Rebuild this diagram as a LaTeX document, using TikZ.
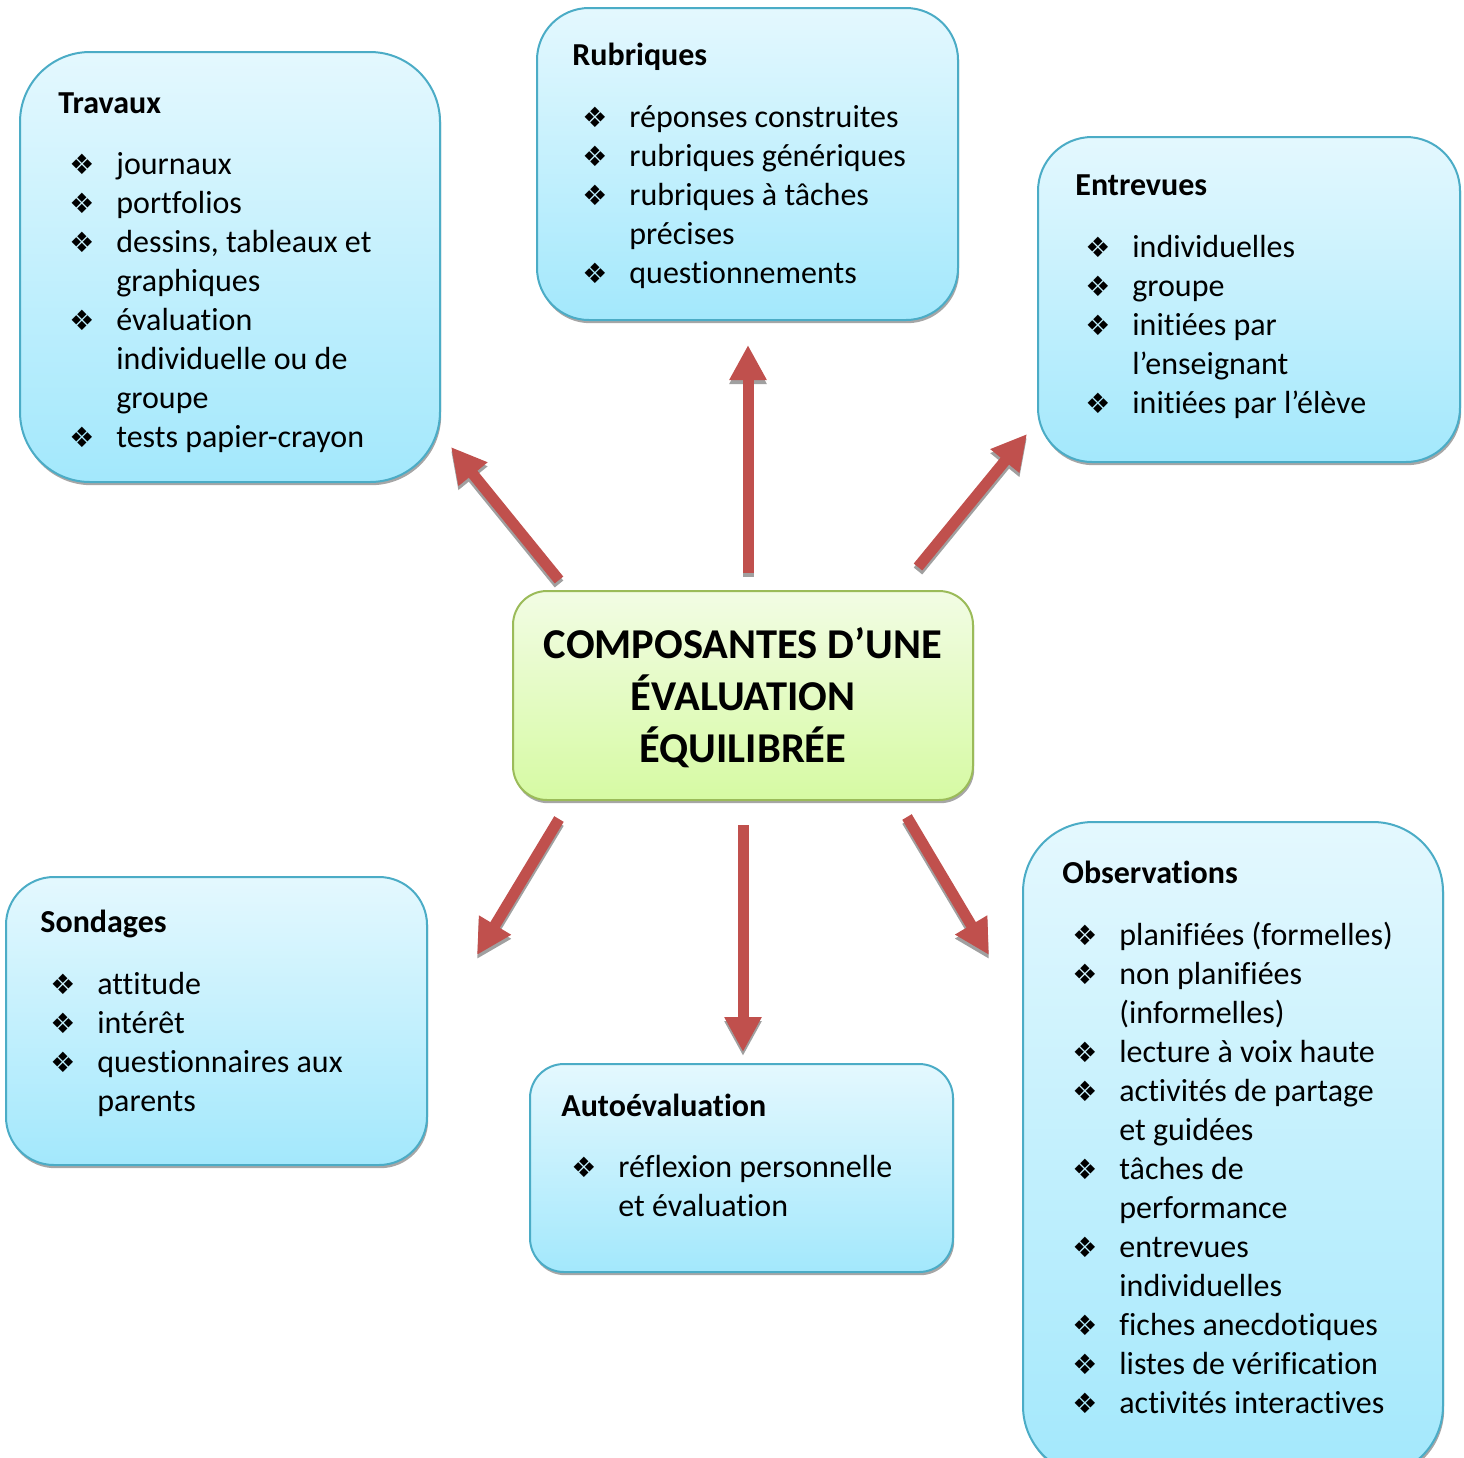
\documentclass[tikz,border=0pt]{standalone}
\usepackage{fontspec}
\setmainfont{Carlito}[RawFeature={-liga;-clig}]
\newfontfamily\dejavu{DejaVu Sans}
\usetikzlibrary{arrows.meta,shadows}
\definecolor{boxtop}{RGB}{228,248,254}
\definecolor{boxbot}{RGB}{163,232,252}
\definecolor{boxline}{RGB}{75,172,198}
\definecolor{gtop}{RGB}{242,252,228}
\definecolor{gbot}{RGB}{214,250,163}
\definecolor{gline}{RGB}{155,187,89}
\definecolor{redarr}{RGB}{192,80,77}
\definecolor{shadowgray}{RGB}{160,160,160}
\newcommand\itemfont{\fontsize{16pt}{19.5pt}\selectfont}
\newcommand\bul{\makebox[24pt][l]{\hspace{0.5pt}\dejavu\fontsize{14pt}{14pt}\selectfont ❖}}
\tikzset{
  bluebox/.style={draw=boxline, line width=1pt, top color=boxtop, bottom color=boxbot,
    drop shadow={shadow xshift=0.6pt, shadow yshift=-1.6pt, fill=black, opacity=0.35}, inner sep=0pt},
  greenbox/.style={draw=gline, line width=1pt, top color=gtop, bottom color=gbot,
    drop shadow={shadow xshift=0.6pt, shadow yshift=-1.6pt, fill=black, opacity=0.35}, inner sep=0pt},
  headtext/.style={anchor=base west, inner sep=0pt, font=\itemfont\bfseries},
  listtext/.style={anchor=base west, inner sep=0pt, font=\itemfont},
  titletext/.style={anchor=base, inner sep=0pt, font=\fontsize{21.25pt}{26pt}\selectfont\bfseries},
  redarrow/.style={draw=redarr, line width=5.5pt, -{Triangle[width=17.5pt,length=17.5pt]}},
  arrowshadow/.style={draw=shadowgray, line width=5.5pt, -{Triangle[width=17.5pt,length=17.5pt]},
    transform canvas={yshift=-2pt}},
}
\begin{document}
\begin{tikzpicture}[x=0.5pt,y=-0.5pt]
\useasboundingbox (0,0) rectangle (1464,1458);

% boxes
\node[bluebox, minimum width=210pt, minimum height=215pt, rounded corners=35pt] (travaux) at (230,267) {};
\node[bluebox, minimum width=210.5pt, minimum height=156pt, rounded corners=26pt] (rubriques) at (747.5,164) {};
\node[bluebox, minimum width=211pt, minimum height=162.5pt, rounded corners=27pt] (entrevues) at (1249,299.5) {};
\node[bluebox, minimum width=210.5pt, minimum height=144pt, rounded corners=24pt] (sondages) at (216.5,1021) {};
\node[bluebox, minimum width=211.5pt, minimum height=104pt, rounded corners=17pt] (auto) at (741.5,1168) {};
\node[bluebox, minimum width=210pt, minimum height=327pt, rounded corners=35pt] (observations) at (1233,1149) {};
\node[greenbox, minimum width=230pt, minimum height=104.5pt, rounded corners=17pt] (centre) at (743,695.5) {};

% title
\node[titletext] (titre) at (743,658) {\begin{tabular}[t]{@{}c@{}}COMPOSANTES D’UNE\\ ÉVALUATION\\ ÉQUILIBRÉE\end{tabular}};

% Travaux
\node[headtext] (travaux-h) at (58,113) {Travaux};
\node[listtext] (travaux-l) at (68,174) {\begin{tabular}[t]{@{}l@{}l@{}}
\bul & journaux\\
\bul & portfolios\\
\bul & dessins, tableaux et\\
 & graphiques\\
\bul & évaluation\\
 & individuelle ou de\\
 & groupe\\
\bul & tests papier-crayon
\end{tabular}};

% Rubriques
\node[headtext] (rubriques-h) at (572,65) {Rubriques};
\node[listtext] (rubriques-l) at (581,127) {\begin{tabular}[t]{@{}l@{}l@{}}
\bul & réponses construites\\
\bul & rubriques génériques\\
\bul & rubriques à tâches\\
 & précises\\
\bul & questionnements
\end{tabular}};

% Entrevues
\node[headtext] (entrevues-h) at (1075,195) {Entrevues};
\node[listtext] (entrevues-l) at (1084,257) {\begin{tabular}[t]{@{}l@{}l@{}}
\bul & individuelles\\
\bul & groupe\\
\bul & initiées par\\
 & l’enseignant\\
\bul & initiées par l’élève
\end{tabular}};

% Sondages
\node[headtext] (sondages-h) at (40,932) {Sondages};
\node[listtext] (sondages-l) at (49,994) {\begin{tabular}[t]{@{}l@{}l@{}}
\bul & attitude\\
\bul & intérêt\\
\bul & questionnaires aux\\
 & parents
\end{tabular}};

% Autoévaluation
\node[headtext] (auto-h) at (561,1116) {Autoévaluation};
\node[listtext] (auto-l) at (570,1177) {\begin{tabular}[t]{@{}l@{}l@{}}
\bul & réflexion personnelle\\
 & et évaluation
\end{tabular}};

% Observations
\node[headtext] (observations-h) at (1062,883) {Observations};
\node[listtext] (observations-l) at (1071,945) {\begin{tabular}[t]{@{}l@{}l@{}}
\bul & planifiées (formelles)\\
\bul & non planifiées\\
 & (informelles)\\
\bul & lecture à voix haute\\
\bul & activités de partage\\
 & et guidées\\
\bul & tâches de\\
 & performance\\
\bul & entrevues\\
 & individuelles\\
\bul & fiches anecdotiques\\
\bul & listes de vérification\\
\bul & activités interactives
\end{tabular}};

% arrow end points
\coordinate (up-s) at (748,573);   \coordinate (up-e) at (748,345);
\coordinate (ul-s) at (559,580);   \coordinate (ul-e) at (451,447);
\coordinate (ur-s) at (918,567);   \coordinate (ur-e) at (1027,434);
\coordinate (ll-s) at (559,819);   \coordinate (ll-e) at (477,955);
\coordinate (dn-s) at (743,825);   \coordinate (dn-e) at (743,1052);
\coordinate (lr-s) at (907,817);   \coordinate (lr-e) at (989,955);

\foreach \a in {up,ul,ur,ll,dn,lr}{
  \draw[arrowshadow] (\a-s) -- (\a-e);
}
\foreach \a in {up,ul,ur,ll,dn,lr}{
  \draw[redarrow] (\a-s) -- (\a-e);
}
\end{tikzpicture}
\end{document}
